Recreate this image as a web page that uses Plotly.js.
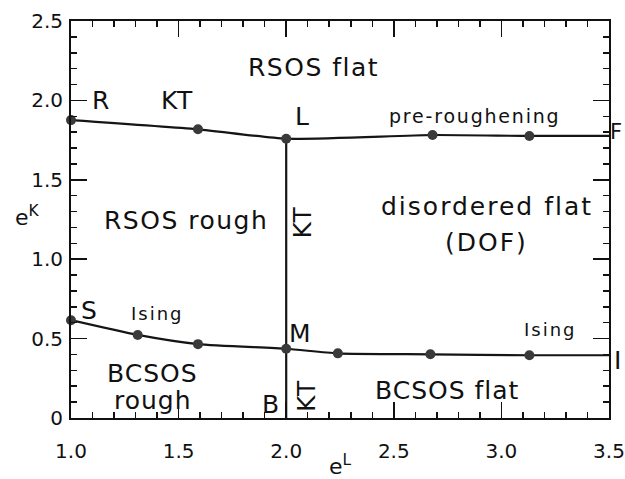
<!DOCTYPE html>
<html>
<head>
<meta charset="utf-8">
<script src="https://cdn.plot.ly/plotly-3.0.1.min.js"></script>
<style>
html,body{margin:0;padding:0;background:#fff;}
#chart{width:625px;height:479px;}
</style>
</head>
<body>
<div id="chart"></div>
<script>
// Upper boundary: R -> L (KT line) and L -> F (pre-roughening line)
const upperX = [1.0, 1.59, 2.0, 2.68, 3.13, 3.5];
const upperY = [1.876, 1.818, 1.759, 1.782, 1.776, 1.776];
// Lower boundary: S -> M (Ising) and M -> I (Ising)
const lowerX = [1.0, 1.31, 1.59, 2.0, 2.24, 2.67, 3.13, 3.5];
const lowerY = [0.616, 0.523, 0.465, 0.436, 0.407, 0.401, 0.395, 0.395];
// Vertical KT line B -> M -> L
const vertX = [2.0, 2.0];
const vertY = [0.0, 1.759];
// Tick labels
const xTickVals = [1.0, 1.5, 2.0, 2.5, 3.0, 3.5];
const xTickText = ["1.0", "1.5", "2.0", "2.5", "3.0", "3.5"];
const yTickVals = [0, 0.5, 1.0, 1.5, 2.0, 2.5];
const yTickText = ["0", "0.5", "1.0", "1.5", "2.0", "2.5"];

const FONT = "DejaVu Sans, Arial, sans-serif";
const lineStyle = {color: "#151515", width: 2.2};
const dotStyle = {color: "#3a3a3a", size: 10};

const traces = [
  {x: upperX, y: upperY, mode: "lines", line: Object.assign({shape: "spline", smoothing: 0.6}, lineStyle), hoverinfo: "skip"},
  {x: lowerX, y: lowerY, mode: "lines", line: Object.assign({shape: "spline", smoothing: 0.6}, lineStyle), hoverinfo: "skip"},
  {x: vertX, y: vertY, mode: "lines", line: lineStyle, hoverinfo: "skip"},
  {x: upperX.slice(0, -1), y: upperY.slice(0, -1), mode: "markers", marker: dotStyle, cliponaxis: false, hoverinfo: "skip"},
  {x: lowerX.slice(0, -1), y: lowerY.slice(0, -1), mode: "markers", marker: dotStyle, cliponaxis: false, hoverinfo: "skip"}
];

function sp(text, ls) {
  return ls ? '<span style="letter-spacing:' + ls + 'px">' + text + '</span>' : text;
}
function lab(text, x, y, size, ls, extra) {
  return Object.assign({text: sp(text, ls), x: x, y: y, xref: "x", yref: "y", showarrow: false,
    font: {family: FONT, size: size, color: "#111"}}, extra || {});
}
const big = 25, mid = 19, small = 18;
const annotations = [
  lab("RSOS flat", 2.125, 2.21, big, 1.5),
  lab("R", 1.139, 2.0, big),
  lab("KT", 1.497, 2.0, big, 1.5),
  lab("L", 2.073, 1.90, big),
  lab("pre-roughening", 2.877, 1.90, mid, 1.8),
  lab("F", 0, 0, 21, 0, {xref: "paper", yref: "y", x: 1.0275, y: 1.80, xanchor: "right"}),
  lab("RSOS rough", 1.534, 1.241, big, 1.5),
  lab("KT", 2.075, 1.234, big, 1.5, {textangle: -90}),
  lab("disordered flat", 2.933, 1.329, big, 2),
  lab("(DOF)", 2.933, 1.108, big, 2),
  lab("S", 1.084, 0.68, big),
  lab("Ising", 1.400, 0.661, small, 2),
  lab("M", 2.064, 0.53, big),
  lab("Ising", 3.230, 0.56, small, 2),
  lab("I", 0, 0, big, 0, {xref: "paper", yref: "y", x: 1.005, y: 0.36, xanchor: "left"}),
  lab("BCSOS", 1.381, 0.283, big, 1),
  lab("rough", 1.381, 0.113, big, 1),
  lab("B", 1.925, 0.088, big),
  lab("KT", 2.097, 0.139, big, 1.5, {textangle: -90}),
  lab("BCSOS flat", 2.403, 0.176, big, 1, {xanchor: "left"}),
  {text: "e<sup>K</sup>", xref: "paper", yref: "paper", x: -0.08, y: 0.51, showarrow: false,
   xanchor: "center", font: {family: FONT, size: 22, color: "#111"}}
];

const axisCommon = {
  showline: true, linewidth: 2, linecolor: "#111", mirror: "allticks",
  ticks: "inside", ticklen: 16, tickwidth: 1.5, tickcolor: "#111",
  showgrid: false, zeroline: false, fixedrange: true,
  tickfont: {family: FONT, size: 20, color: "#111"},
  minor: {dtick: 0.1, tick0: 0, ticks: "inside", ticklen: 6, tickwidth: 1.5, tickcolor: "#111", showgrid: false}
};

const layout = {
  width: 625, height: 479,
  margin: {l: 71, r: 16, t: 21, b: 61},
  paper_bgcolor: "#fff", plot_bgcolor: "#fff",
  showlegend: false,
  xaxis: Object.assign({}, axisCommon, {
    range: [1.0, 3.5], tickmode: "array", tickvals: xTickVals, ticktext: xTickText,
    ticklabelstandoff: 14,
    title: {text: "e<sup>L</sup>", font: {family: FONT, size: 22, color: "#111"}, standoff: 2}
  }),
  yaxis: Object.assign({}, axisCommon, {
    range: [0, 2.5], tickmode: "array", tickvals: yTickVals, ticktext: yTickText,
    ticklabelstandoff: 2
  }),
  annotations: annotations
};

Plotly.newPlot("chart", traces, layout, {staticPlot: true, displayModeBar: false});
</script>
</body>
</html>
